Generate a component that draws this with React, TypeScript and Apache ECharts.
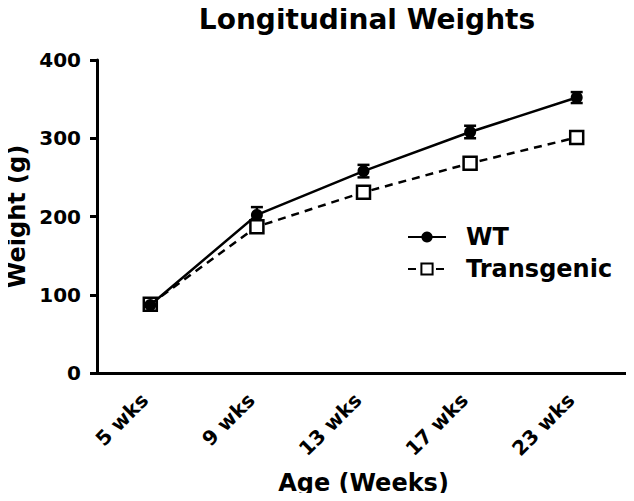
import React, { useEffect, useRef } from "react";
import * as echarts from "echarts";

const categories = ["5 wks", "9 wks", "13 wks", "17 wks", "23 wks"];
const wtValues = [87, 202, 258, 308, 352];
const wtErr = [5, 10, 8, 8, 7];
const tgValues = [88, 187, 231, 268, 301];
const tgErr = [4, 6, 6, 6, 6];
const yTicks = [0, 100, 200, 300, 400];

const FONT = "DejaVu Sans";

function errorSeries(name: string, vals: number[], errs: number[]) {
  return {
    type: "custom",
    name: name + "-err",
    z: 1,
    silent: true,
    data: vals.map((v, i) => [i, v - errs[i], v + errs[i]]),
    renderItem: (params: any, api: any) => {
      const x = api.value(0);
      const lo = api.coord([x, api.value(1)]);
      const hi = api.coord([x, api.value(2)]);
      const cap = 6;
      const style = { stroke: "#000", lineWidth: 2.5 };
      return {
        type: "group",
        children: [
          { type: "line", shape: { x1: lo[0], y1: lo[1], x2: hi[0], y2: hi[1] }, style },
          { type: "line", shape: { x1: hi[0] - cap, y1: hi[1], x2: hi[0] + cap, y2: hi[1] }, style },
          { type: "line", shape: { x1: lo[0] - cap, y1: lo[1], x2: lo[0] + cap, y2: lo[1] }, style },
        ],
      };
    },
  };
}

export default function App() {
  const ref = useRef<HTMLDivElement>(null);
  useEffect(() => {
    if (!ref.current) return;
    const chart = echarts.init(ref.current, undefined, { renderer: "svg" });
    chart.setOption({
      animation: false,
      backgroundColor: "#fff",
      title: {
        text: "Longitudinal Weights",
        left: 362,
        top: 0,
        textAlign: "center",
        textStyle: { fontFamily: FONT, fontWeight: "bold", fontSize: 28, color: "#000" },
      },
      legend: {
        orient: "vertical",
        left: 402,
        top: 220,
        itemWidth: 38,
        itemHeight: 14,
        itemGap: 8,
        data: ["WT", "Transgenic"],
        textStyle: { fontFamily: FONT, fontWeight: "bold", fontSize: 24, color: "#000", padding: [0, 0, 0, 15] },
      },
      grid: { left: 97, right: 4, top: 60, bottom: 128, containLabel: false, outerBoundsMode: "none" },
      xAxis: {
        type: "category",
        data: categories,
        boundaryGap: true,
        name: "Age (Weeks)",
        nameLocation: "middle",
        nameGap: 98,
        nameTextStyle: { fontFamily: FONT, fontWeight: "bold", fontSize: 24, color: "#000" },
        axisLine: { lineStyle: { color: "#000", width: 3 } },
        axisTick: { alignWithLabel: true, length: 7, lineStyle: { color: "#000", width: 3 } },
        axisLabel: {
          rotate: 45,
          margin: 18,
          padding: [0, 8, 0, 0],
          fontFamily: FONT,
          fontWeight: "bold",
          fontSize: 20,
          color: "#000",
        },
      },
      yAxis: {
        type: "value",
        min: yTicks[0],
        max: yTicks[yTicks.length - 1],
        interval: 100,
        name: "Weight (g)",
        nameLocation: "middle",
        nameGap: 68,
        nameMoveOverlap: false,
        nameTextStyle: { fontFamily: FONT, fontWeight: "bold", fontSize: 24, color: "#000" },
        axisLine: { show: true, lineStyle: { color: "#000", width: 3 } },
        axisTick: { show: true, length: 7, lineStyle: { color: "#000", width: 3 } },
        splitLine: { show: false },
        axisLabel: { margin: 16, fontFamily: FONT, fontWeight: "bold", fontSize: 20, color: "#000" },
      },
      series: [
        errorSeries("WT", wtValues, wtErr),
        errorSeries("Transgenic", tgValues, tgErr),
        {
          name: "WT",
          type: "line",
          z: 3,
          data: wtValues,
          symbol: "circle",
          symbolSize: 12,
          itemStyle: { color: "#000" },
          lineStyle: { color: "#000", width: 2.5 },
        },
        {
          name: "Transgenic",
          type: "line",
          z: 2,
          data: tgValues,
          symbol: "rect",
          symbolSize: 13,
          itemStyle: { color: "#fff", borderColor: "#000", borderWidth: 2.5 },
          lineStyle: { color: "#000", width: 2.5, type: [8, 6] },
        },
      ],
    });
    return () => chart.dispose();
  }, []);
  return <div ref={ref} style={{ width: 634, height: 501, margin: -8 }} />;
}
